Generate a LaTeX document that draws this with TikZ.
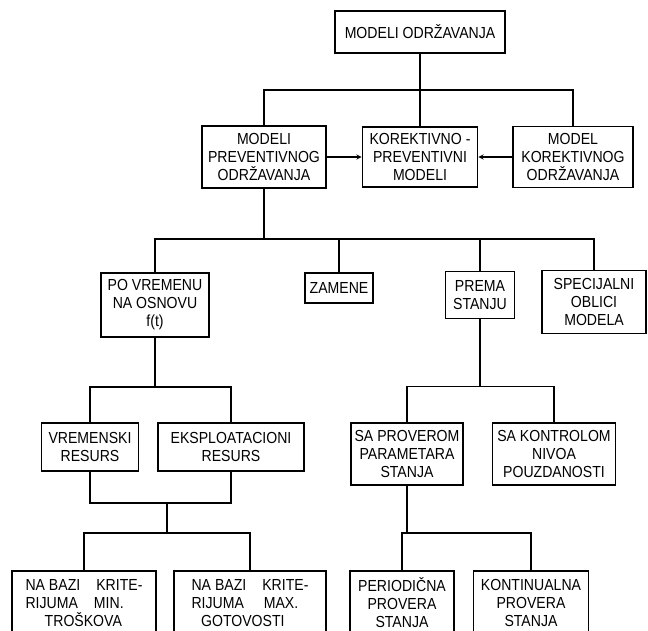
\documentclass[tikz,border=0pt]{standalone}
\usepackage{fontspec}
\setmainfont[FakeStretch=0.88]{Liberation Sans}
\begin{document}
\begin{tikzpicture}[x=1pt, y=-1pt, >=stealth,
	kutija/.style={draw, line width=1.8pt, inner sep=2pt, align=center,
		font=\fontsize{16}{18}\selectfont},
	veza/.style={line width=1.3pt}]
	
	\useasboundingbox (0,0) rectangle (648,630);
	\clip (0,0) rectangle (648,630);
	
	% Prvi nivo: vrh i tri grupe modela
	\node[kutija, minimum width=170pt, minimum height=42pt] (vrh) at (420,32) {MODELI ODRŽAVANJA};
	\node[kutija, minimum width=124pt, minimum height=62pt] (prev) at (264,157) {MODELI\\PREVENTIVNOG\\ODRŽAVANJA};
	\node[kutija, minimum width=115pt, minimum height=60pt] (korprev) at (420,157) {KOREKTIVNO -\\PREVENTIVNI\\MODELI};
	\node[kutija, minimum width=120pt, minimum height=61pt] (kor) at (573,157) {MODEL\\KOREKTIVNOG\\ODRŽAVANJA};
	
	% Drugi nivo: vrste preventivnog održavanja
	\node[kutija, minimum width=108pt, minimum height=64pt] (povremenu) at (155,305) {PO VREMENU\\NA OSNOVU\\f(t)};
	\node[kutija, minimum width=68pt, minimum height=30pt] (zamene) at (339,288) {ZAMENE};
	\node[kutija, minimum width=69pt, minimum height=47pt] (prema) at (480,295) {PREMA\\STANJU};
	\node[kutija, minimum width=104pt, minimum height=63pt] (spec) at (594,302) {SPECIJALNI\\OBLICI\\MODELA};
	
	% Treći nivo
	\node[kutija, minimum width=97pt, minimum height=48pt] (vremenski) at (90,447) {VREMENSKI\\RESURS};
	\node[kutija, minimum width=146pt, minimum height=48pt] (eksp) at (231,447) {EKSPLOATACIONI\\RESURS};
	\node[kutija, minimum width=112pt, minimum height=62pt] (saproverom) at (407,454) {SA PROVEROM\\PARAMETARA\\STANJA};
	\node[kutija, minimum width=123pt, minimum height=62pt] (sakontrolom) at (554,454) {SA KONTROLOM\\NIVOA\\POUZDANOSTI};
	
	% Četvrti nivo (odsečen donjom ivicom)
	\node[kutija, minimum width=144pt, minimum height=64pt, align=left] (minimum) at (84,603) {NA BAZI\quad KRITE-\\RIJUMA\quad MIN.\\\hspace{1.2em}TROŠKOVA};
	\node[kutija, minimum width=152pt, minimum height=64pt, align=left] (maksimum) at (250,603) {NA BAZI\quad KRITE-\\RIJUMA\quad\ MAX.\\\hspace{0.6em}GOTOVOSTI};
	\node[kutija, minimum width=104pt, minimum height=64pt] (periodicna) at (402,603) {PERIODIČNA\\PROVERA\\STANJA};
	\node[kutija, minimum width=115pt, minimum height=64pt] (kontinualna) at (531,603) {KONTINUALNA\\PROVERA\\STANJA};
	
	% Veze sa vrha
	\coordinate (g1) at (420,90);
	\draw[veza] (vrh.south) -- (g1);
	\foreach \n in {prev,korprev,kor} {
		\draw[veza] (g1) -| (\n.north);
	}
	
	% Strelice ka korektivno-preventivnim modelima
	\draw[veza,->] (prev.east) -- (korprev.west);
	\draw[veza,->] (kor.west) -- (korprev.east);
	
	% Grananje preventivnog održavanja
	\draw[veza] (prev.south) -- ++(0,50) coordinate (g2);
	\foreach \n in {povremenu,zamene,prema,spec} {
		\draw[veza] (g2) -| (\n.north);
	}
	
	% Leva grana
	\draw[veza] (povremenu.south) -- ++(0,49) coordinate (g3);
	\foreach \n in {vremenski,eksp} {
		\draw[veza] (g3) -| (\n.north);
	}
	\coordinate (g4) at (167,503);
	\draw[veza] (vremenski.south) |- (g4) -| (eksp.south);
	\draw[veza] (g4) -- ++(0,30) coordinate (g5);
	\foreach \n in {minimum,maksimum} {
		\draw[veza] (g5) -| (\n.north);
	}
	
	% Desna grana (prema stanju)
	\draw[veza] (prema.south) -- ++(0,67) coordinate (g6);
	\foreach \n in {saproverom,sakontrolom} {
		\draw[veza] (g6) -| (\n.north);
	}
	\draw[veza] (saproverom.south) -- ++(0,47) coordinate (g7);
	\foreach \n in {periodicna,kontinualna} {
		\draw[veza] (g7) -| (\n.north);
	}
	
\end{tikzpicture}
\end{document}
